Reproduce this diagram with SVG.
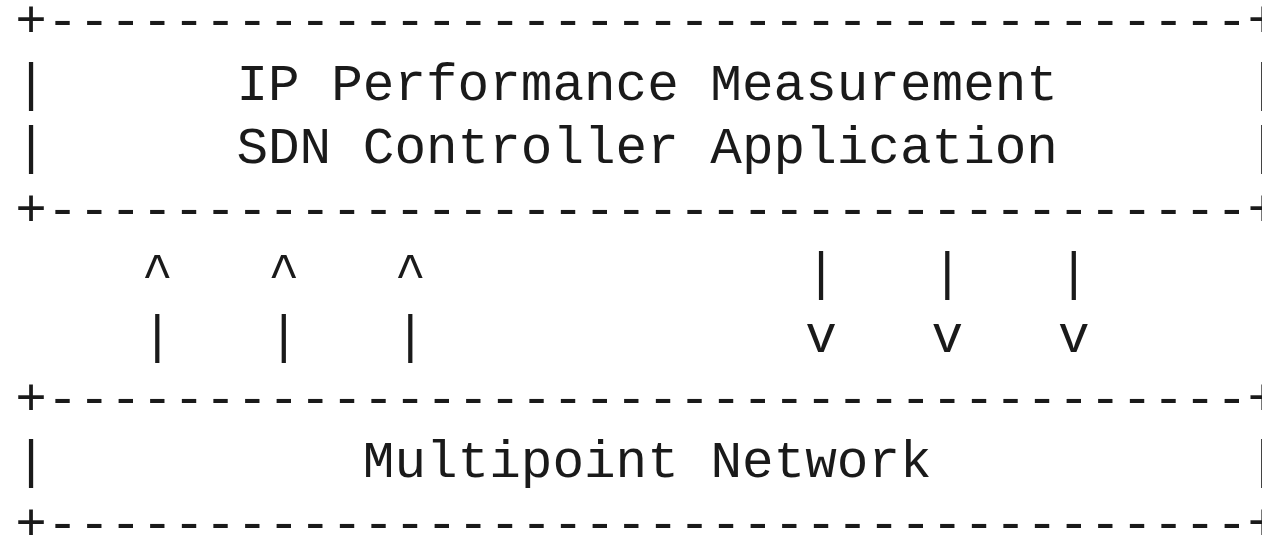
<svg xmlns="http://www.w3.org/2000/svg" width="1262" height="537" viewBox="0 0 1262 537">
<style>
text { font-family: "Liberation Mono", "Courier New", monospace; font-size: 52.67px; fill: #1a1a1a; white-space: pre; }
</style>
<rect width="1262" height="537" fill="#ffffff"/>
<g id="controller">
<text x="15.2" y="37.1" xml:space="preserve">+--------------------------------------+</text>
<text x="15.2" y="100">|</text>
<text x="236.4" y="100">IP Performance Measurement</text>
<text x="1247.6" y="100">|</text>
<text x="15.2" y="162.9">|</text>
<text x="236.4" y="162.9">SDN Controller Application</text>
<text x="1247.6" y="162.9">|</text>
<text x="15.2" y="225.8" xml:space="preserve">+--------------------------------------+</text>
</g>
<g id="connectors">
<text x="141.6" y="288.7">^</text>
<text x="268" y="288.7">^</text>
<text x="394.4" y="288.7">^</text>
<text x="141.6" y="351.6">|</text>
<text x="268" y="351.6">|</text>
<text x="394.4" y="351.6">|</text>
<text x="805.2" y="288.7">|</text>
<text x="931.6" y="288.7">|</text>
<text x="1058" y="288.7">|</text>
<text x="805.2" y="351.6">v</text>
<text x="931.6" y="351.6">v</text>
<text x="1058" y="351.6">v</text>
</g>
<g id="network">
<text x="15.2" y="414.5" xml:space="preserve">+--------------------------------------+</text>
<text x="15.2" y="477.4">|</text>
<text x="362.8" y="477.4">Multipoint Network</text>
<text x="1247.6" y="477.4">|</text>
<text x="15.2" y="540.3" xml:space="preserve">+--------------------------------------+</text>
</g>
</svg>
